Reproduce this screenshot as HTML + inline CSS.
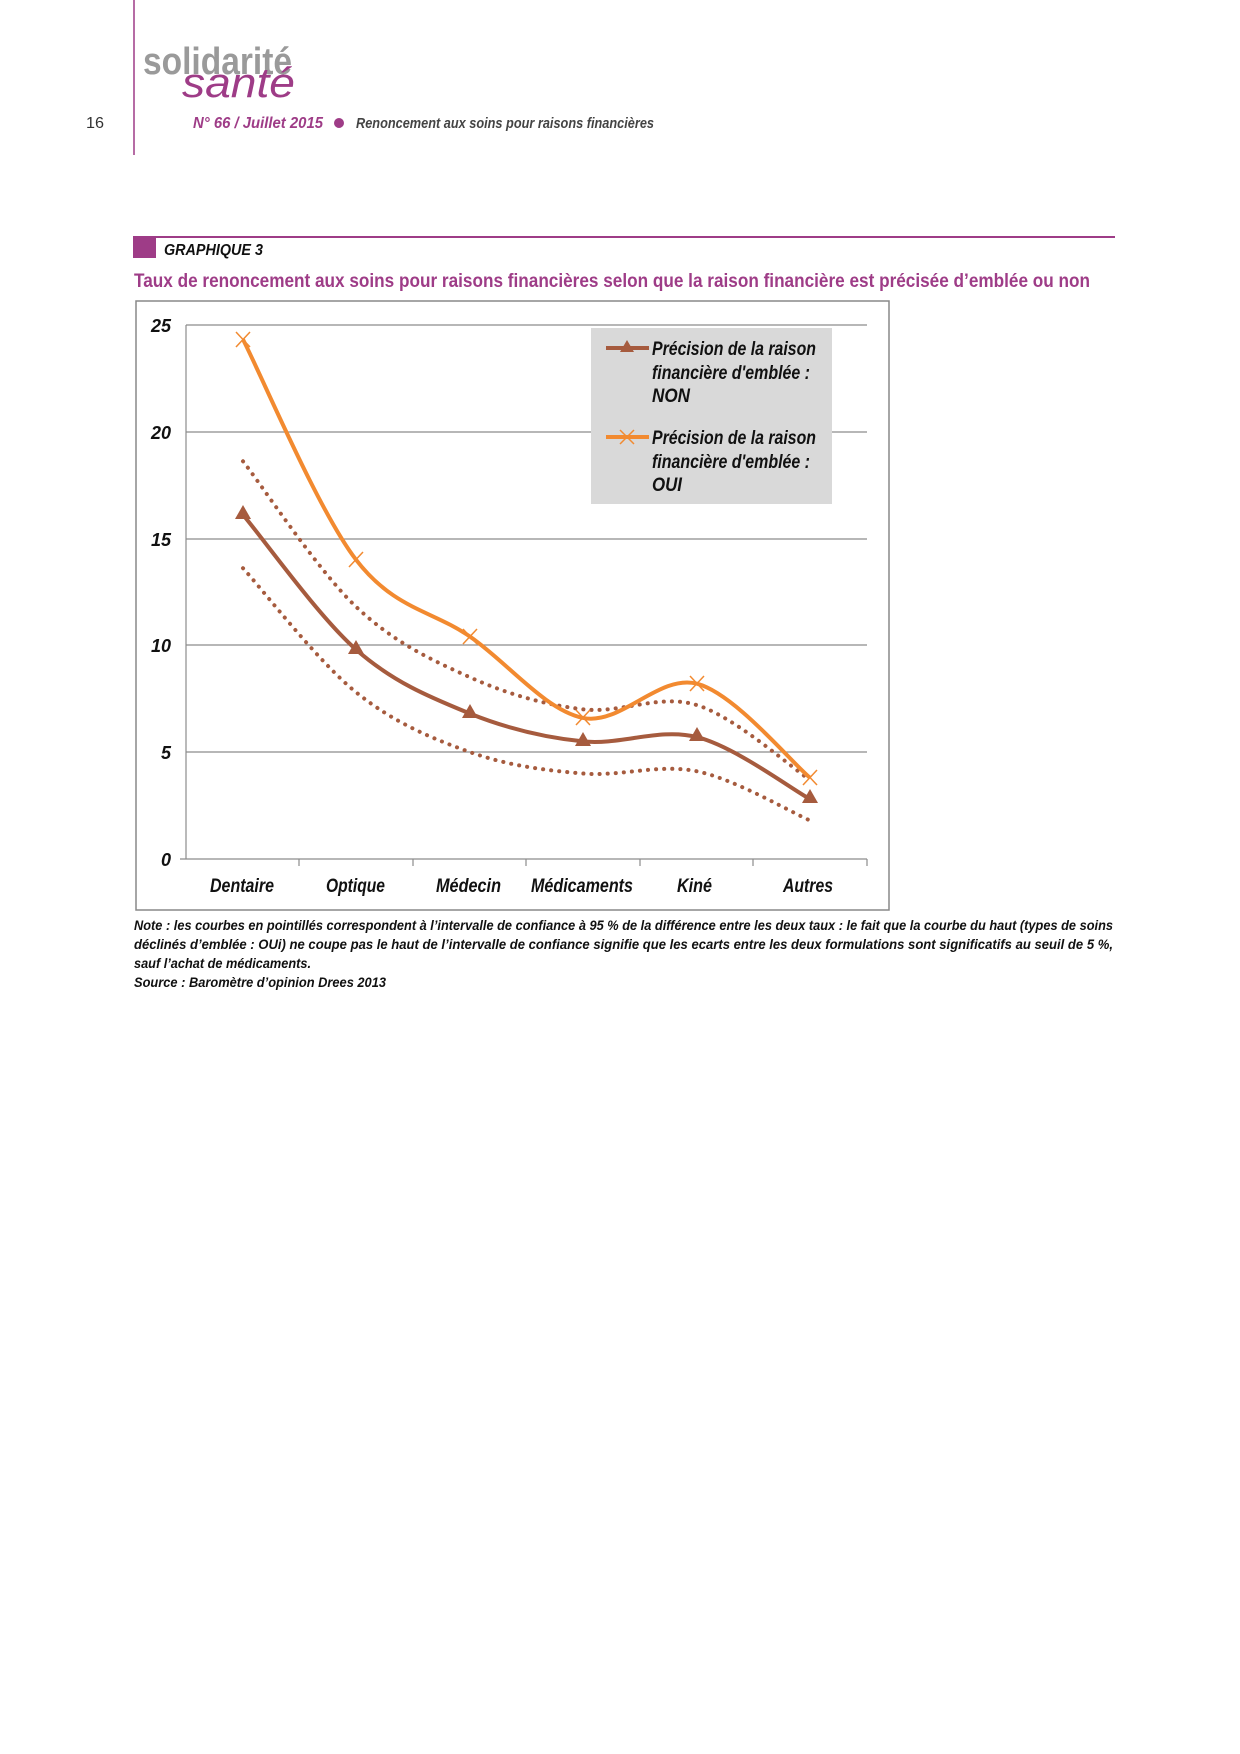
<!DOCTYPE html>
<html><head><meta charset="utf-8"><style>body{margin:0;background:#fff}svg{display:block}</style></head><body>
<svg width="1240" height="1754" viewBox="0 0 1240 1754" xmlns="http://www.w3.org/2000/svg" font-family="'Liberation Sans Narrow','Liberation Sans',sans-serif">
<line x1="134" y1="0" x2="134" y2="155" stroke="#9e3c87" stroke-width="1.5"/>
<text x="86" y="128" font-size="16" fill="#333" textLength="18" lengthAdjust="spacingAndGlyphs">16</text>
<text x="143" y="74" font-size="38" font-weight="bold" fill="#9a9a9a" textLength="149" lengthAdjust="spacingAndGlyphs">solidarité</text>
<text x="182" y="97" font-size="42" font-style="italic" fill="#9e3c87" textLength="113" lengthAdjust="spacingAndGlyphs">santé</text>
<text x="193" y="128" font-size="16" font-style="italic" font-weight="bold" fill="#9e3c87" textLength="130" lengthAdjust="spacingAndGlyphs">N° 66 / Juillet 2015</text>
<circle cx="339" cy="123" r="5" fill="#9e3c87"/>
<text x="356" y="128" font-size="15" font-style="italic" font-weight="bold" fill="#444" textLength="298" lengthAdjust="spacingAndGlyphs">Renoncement aux soins pour raisons financières</text>
<line x1="133" y1="237" x2="1115" y2="237" stroke="#9e3c87" stroke-width="2"/>
<rect x="133" y="237" width="23" height="21" fill="#9e3c87"/>
<text x="164" y="255" font-size="16" font-style="italic" font-weight="bold" fill="#111" textLength="99" lengthAdjust="spacingAndGlyphs">GRAPHIQUE 3</text>
<text x="134" y="287" font-size="19" font-weight="bold" fill="#9e3c87" textLength="956" lengthAdjust="spacingAndGlyphs">Taux de renoncement aux soins pour raisons financières selon que la raison financière est précisée d’emblée ou non</text>
<rect x="136" y="301" width="753" height="609" fill="#fff" stroke="#888" stroke-width="1.5"/>
<g stroke="#8c8c8c" stroke-width="1.2">
<line x1="186" y1="325" x2="867" y2="325"/><line x1="186" y1="432" x2="867" y2="432"/><line x1="186" y1="539" x2="867" y2="539"/><line x1="186" y1="645" x2="867" y2="645"/><line x1="186" y1="752" x2="867" y2="752"/>
<line x1="186" y1="325" x2="186" y2="859"/><line x1="180" y1="859" x2="867" y2="859"/>
<line x1="299" y1="859" x2="299" y2="866"/><line x1="413" y1="859" x2="413" y2="866"/><line x1="526" y1="859" x2="526" y2="866"/><line x1="640" y1="859" x2="640" y2="866"/><line x1="753" y1="859" x2="753" y2="866"/><line x1="867" y1="859" x2="867" y2="866"/>
</g>
<g font-size="18" font-style="italic" font-weight="bold" fill="#111" text-anchor="end">
<text x="171" y="332">25</text><text x="171" y="439">20</text><text x="171" y="546">15</text><text x="171" y="652">10</text><text x="171" y="759">5</text><text x="171" y="866">0</text>
</g>
<g font-size="19" font-style="italic" font-weight="bold" fill="#111">
<text x="210" y="892" textLength="64" lengthAdjust="spacingAndGlyphs">Dentaire</text>
<text x="326" y="892" textLength="59" lengthAdjust="spacingAndGlyphs">Optique</text>
<text x="436" y="892" textLength="65" lengthAdjust="spacingAndGlyphs">Médecin</text>
<text x="531" y="892" textLength="102" lengthAdjust="spacingAndGlyphs">Médicaments</text>
<text x="677" y="892" textLength="35" lengthAdjust="spacingAndGlyphs">Kiné</text>
<text x="783" y="892" textLength="50" lengthAdjust="spacingAndGlyphs">Autres</text>
</g>
<g fill="none" stroke="#a65b3e" stroke-width="4" stroke-linecap="round" stroke-dasharray="0.1 8">
<path d="M243,461.3 C262,485.5 318,570.7 356,606.7 C394,642.7 432,660.2 470,677.3 C508,694.4 545,704.7 583,709.3 C621,713.9 659,693.3 697,705.1 C735,716.9 791,767.4 810,779.9"/>
<path d="M243,568.2 C262,588.9 318,661.6 356,692.2 C394,722.8 432,738.5 470,752.1 C508,765.7 545,770.3 583,773.5 C621,776.7 659,763.5 697,771.3 C735,779.1 791,812.3 810,820.5"/>
</g>
<path d="M243,514.8 C262,537 318,616 356,649.5 C394,683 432,698 470,713.6 C508,728.9 545,737.5 583,741.4 C621,745.3 659,727.5 697,737.1 C735,746.7 791,788.8 810,799.1" fill="none" stroke="#a65b3e" stroke-width="4"/>
<path d="M243,339.5 C262,376.2 318,510.2 356,559.7 C394,609.2 432,610.2 470,636.6 C508,663 545,710 583,717.9 C621,725.8 659,673.7 697,683.7 C735,693.7 791,762.1 810,777.8" fill="none" stroke="#f28a30" stroke-width="4"/>
<g fill="#a65b3e">
<path d="M243,505 l-8,14 h16z"/><path d="M356,640 l-8,14 h16z"/><path d="M470,704 l-8,14 h16z"/><path d="M583,732 l-8,14 h16z"/><path d="M697,727 l-8,14 h16z"/><path d="M810,789 l-8,14 h16z"/>
</g>
<g stroke="#f28a30" stroke-width="1.5">
<path d="M236,332 l14,15 M250,332 l-14,15"/><path d="M349,552 l14,15 M363,552 l-14,15"/><path d="M463,629 l14,15 M477,629 l-14,15"/><path d="M576,710 l14,15 M590,710 l-14,15"/><path d="M690,676 l14,15 M704,676 l-14,15"/><path d="M803,770 l14,15 M817,770 l-14,15"/>
</g>
<rect x="591" y="328" width="241" height="176" fill="#d9d9d9"/>
<line x1="606" y1="348" x2="649" y2="348" stroke="#a65b3e" stroke-width="4"/>
<path d="M627,340 l-7,12 h14z" fill="#a65b3e"/>
<line x1="606" y1="437" x2="649" y2="437" stroke="#f28a30" stroke-width="4"/>
<path d="M620,430 l14,14 M634,430 l-14,14" stroke="#f28a30" stroke-width="1.5"/>
<g font-size="19" font-style="italic" font-weight="bold" fill="#111">
<text x="652" y="355" textLength="164" lengthAdjust="spacingAndGlyphs">Précision de la raison</text>
<text x="652" y="379" textLength="158" lengthAdjust="spacingAndGlyphs">financière d'emblée :</text>
<text x="652" y="402" textLength="38" lengthAdjust="spacingAndGlyphs">NON</text>
<text x="652" y="444" textLength="164" lengthAdjust="spacingAndGlyphs">Précision de la raison</text>
<text x="652" y="468" textLength="158" lengthAdjust="spacingAndGlyphs">financière d'emblée :</text>
<text x="652" y="491" textLength="30" lengthAdjust="spacingAndGlyphs">OUI</text>
</g>
<g font-size="13.5" font-style="italic" font-weight="bold" fill="#111">
<text x="134" y="930" textLength="979" lengthAdjust="spacingAndGlyphs">Note : les courbes en pointillés correspondent à l’intervalle de confiance à 95 % de la différence entre les deux taux : le fait que la courbe du haut (types de soins</text>
<text x="134" y="949" textLength="979" lengthAdjust="spacingAndGlyphs">déclinés d’emblée : OUi) ne coupe pas le haut de l’intervalle de confiance signifie que les ecarts entre les deux formulations sont significatifs au seuil de 5 %,</text>
<text x="134" y="968" textLength="177" lengthAdjust="spacingAndGlyphs">sauf l’achat de médicaments.</text>
<text x="134" y="987" textLength="252" lengthAdjust="spacingAndGlyphs">Source : Baromètre d’opinion Drees 2013</text>
</g>
</svg>
</body></html>
